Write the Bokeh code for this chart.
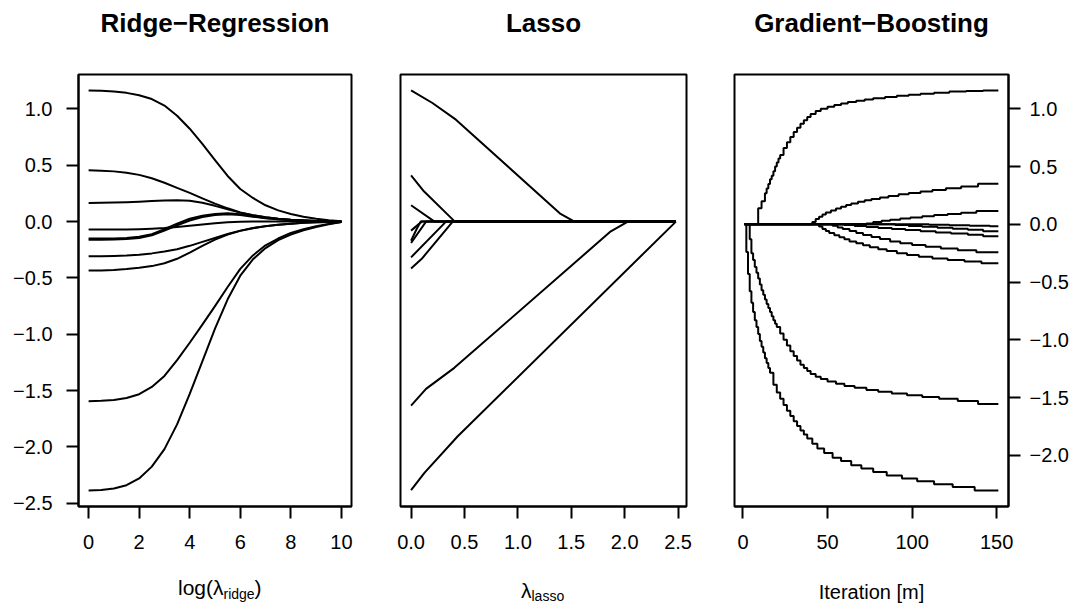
from bokeh.plotting import figure
from bokeh.layouts import row, column
from bokeh.models import Range1d, FixedTicker, Label
from bokeh.embed import file_html
from bokeh.resources import INLINE

FONT = "Liberation Sans"

# ---------------- Ridge regression: coefficient paths over log(lambda)
ridge_log_lambda = [0, 0.5, 1, 1.5, 2, 2.5, 3, 3.5, 4, 4.5, 5, 5.5, 6, 6.5, 7, 7.5, 8, 8.5, 9, 9.5, 10]
ridge_coef_1 = [1.165, 1.161, 1.155, 1.143, 1.122, 1.088, 1.03, 0.94, 0.825, 0.69, 0.545, 0.405, 0.29, 0.21, 0.145, 0.10, 0.068, 0.044, 0.026, 0.012, 0.003]
ridge_coef_2 = [0.455, 0.452, 0.446, 0.434, 0.415, 0.385, 0.345, 0.30, 0.255, 0.207, 0.16, 0.118, 0.082, 0.057, 0.039, 0.026, 0.017, 0.011, 0.006, 0.003, 0.001]
ridge_coef_3 = [0.166, 0.167, 0.169, 0.172, 0.177, 0.183, 0.188, 0.19, 0.185, 0.167, 0.14, 0.11, 0.08, 0.056, 0.038, 0.025, 0.016, 0.010, 0.006, 0.003, 0.001]
ridge_coef_4 = [-0.071, -0.071, -0.070, -0.069, -0.067, -0.063, -0.057, -0.048, -0.037, -0.025, -0.014, -0.006, -0.001, 0.001, 0.002, 0.002, 0.001, 0.001, 0.0, 0.0, 0.0]
ridge_coef_5 = [-0.150, -0.150, -0.149, -0.145, -0.135, -0.112, -0.068, -0.018, 0.025, 0.052, 0.068, 0.074, 0.065, 0.048, 0.033, 0.022, 0.014, 0.009, 0.005, 0.003, 0.001]
ridge_coef_6 = [-0.160, -0.160, -0.158, -0.154, -0.145, -0.122, -0.080, -0.032, 0.010, 0.041, 0.058, 0.065, 0.058, 0.044, 0.030, 0.021, 0.013, 0.008, 0.005, 0.003, 0.001]
ridge_coef_7 = [-0.308, -0.307, -0.305, -0.301, -0.294, -0.282, -0.266, -0.245, -0.215, -0.18, -0.145, -0.11, -0.08, -0.057, -0.04, -0.027, -0.018, -0.011, -0.006, -0.003, -0.001]
ridge_coef_8 = [-0.435, -0.433, -0.429, -0.421, -0.41, -0.395, -0.37, -0.33, -0.275, -0.215, -0.16, -0.115, -0.082, -0.058, -0.041, -0.028, -0.018, -0.011, -0.006, -0.003, -0.001]
ridge_coef_9 = [-1.594, -1.591, -1.583, -1.566, -1.532, -1.468, -1.37, -1.23, -1.075, -0.915, -0.75, -0.58, -0.42, -0.30, -0.21, -0.15, -0.10, -0.068, -0.040, -0.02, -0.004]
ridge_coef_10 = [-2.387, -2.382, -2.37, -2.34, -2.28, -2.175, -2.02, -1.80, -1.53, -1.24, -0.95, -0.69, -0.48, -0.335, -0.235, -0.165, -0.115, -0.078, -0.048, -0.024, -0.004]
ridge_paths = [ridge_coef_1, ridge_coef_2, ridge_coef_3, ridge_coef_4, ridge_coef_5,
               ridge_coef_6, ridge_coef_7, ridge_coef_8, ridge_coef_9, ridge_coef_10]

# ---------------- Lasso: piecewise-linear coefficient paths over lambda
lasso_lambda_1 = [0, 0.2, 0.42, 1.40, 1.53, 2.48]
lasso_coef_1 = [1.165, 1.053, 0.905, 0.068, 0.0, 0.0]
lasso_lambda_2 = [0, 0.12, 0.41, 2.48]
lasso_coef_2 = [0.411, 0.269, 0.0, 0.0]
lasso_lambda_3 = [0, 0.22, 2.48]
lasso_coef_3 = [0.145, 0.0, 0.0]
lasso_lambda_4 = [0, 0.10, 2.48]
lasso_coef_4 = [-0.08, 0.0, 0.0]
lasso_lambda_5 = [0, 0.14, 2.48]
lasso_coef_5 = [-0.19, 0.0, 0.0]
lasso_lambda_6 = [0, 0.05, 0.09, 2.48]
lasso_coef_6 = [-0.17, -0.07, 0.0, 0.0]
lasso_lambda_7 = [0, 0.327, 2.48]
lasso_coef_7 = [-0.317, 0.0, 0.0]
lasso_lambda_8 = [0, 0.10, 0.39, 2.48]
lasso_coef_8 = [-0.417, -0.33, 0.0, 0.0]
lasso_lambda_9 = [0, 0.14, 0.405, 1.87, 2.03, 2.48]
lasso_coef_9 = [-1.633, -1.485, -1.298, -0.086, 0.0, 0.0]
lasso_lambda_10 = [0, 0.125, 0.437, 2.48]
lasso_coef_10 = [-2.384, -2.23, -1.905, 0.0]
lasso_paths = [(lasso_lambda_1, lasso_coef_1), (lasso_lambda_2, lasso_coef_2),
               (lasso_lambda_3, lasso_coef_3), (lasso_lambda_4, lasso_coef_4),
               (lasso_lambda_5, lasso_coef_5), (lasso_lambda_6, lasso_coef_6),
               (lasso_lambda_7, lasso_coef_7), (lasso_lambda_8, lasso_coef_8),
               (lasso_lambda_9, lasso_coef_9), (lasso_lambda_10, lasso_coef_10)]

# ---------------- Gradient boosting: stepwise coefficient paths over iterations
gb_iter_1 = [1, 9, 11, 13, 14, 15, 16, 17, 18, 19, 20, 21, 22, 24, 26, 28, 30, 32, 34, 36, 38, 40, 43, 46, 50, 54, 58, 62, 67, 72, 77, 84, 91, 98, 105, 113, 122, 132, 142, 151]
gb_coef_1 = [0.0, 0.14, 0.20, 0.27, 0.31, 0.35, 0.39, 0.42, 0.46, 0.50, 0.535, 0.57, 0.60, 0.66, 0.71, 0.755, 0.80, 0.835, 0.87, 0.90, 0.93, 0.955, 0.98, 1.0, 1.017, 1.032, 1.045, 1.058, 1.07, 1.081, 1.092, 1.103, 1.113, 1.122, 1.131, 1.14, 1.15, 1.154, 1.159, 1.159]
gb_iter_2 = [1, 2, 3, 4, 5, 6, 7, 8, 9, 10, 11, 12, 13, 14, 15, 16, 18, 20, 22, 24, 26, 28, 30, 32, 34, 36, 38, 41, 44, 48, 53, 58, 64, 70, 77, 85, 94, 103, 113, 124, 137, 151]
gb_coef_2 = [0.0, -0.24, -0.43, -0.58, -0.68, -0.76, -0.83, -0.89, -0.95, -1.01, -1.06, -1.11, -1.16, -1.2, -1.245, -1.285, -1.39, -1.455, -1.51, -1.565, -1.615, -1.66, -1.705, -1.745, -1.785, -1.82, -1.855, -1.9, -1.94, -1.98, -2.02, -2.05, -2.085, -2.115, -2.145, -2.175, -2.2, -2.225, -2.25, -2.275, -2.304, -2.304]
gb_iter_3 = [1, 4, 5, 6, 7, 8, 9, 10, 11, 12, 13, 14, 15, 16, 17, 18, 19, 20, 22, 24, 26, 28, 30, 32, 34, 36, 38, 40, 43, 46, 50, 55, 60, 66, 73, 80, 88, 97, 106, 116, 127, 139, 151]
gb_coef_3 = [0.0, -0.13, -0.25, -0.31, -0.37, -0.42, -0.47, -0.52, -0.57, -0.61, -0.65, -0.69, -0.725, -0.76, -0.795, -0.83, -0.86, -0.89, -0.945, -1.0, -1.05, -1.1, -1.14, -1.18, -1.215, -1.245, -1.27, -1.295, -1.32, -1.34, -1.36, -1.38, -1.4, -1.415, -1.435, -1.45, -1.465, -1.48, -1.495, -1.51, -1.53, -1.555, -1.555]
gb_iter_4 = [1, 41, 43, 45, 47, 49, 52, 55, 58, 61, 64, 68, 72, 76, 81, 86, 92, 98, 105, 112, 120, 129, 139, 151]
gb_coef_4 = [0.0, 0.02, 0.045, 0.065, 0.085, 0.103, 0.12, 0.137, 0.152, 0.167, 0.18, 0.195, 0.208, 0.22, 0.233, 0.245, 0.26, 0.272, 0.285, 0.298, 0.312, 0.327, 0.352, 0.352]
gb_iter_5 = [1, 73, 77, 82, 87, 93, 99, 106, 113, 121, 129, 138, 151]
gb_coef_5 = [0.0, 0.008, 0.02, 0.03, 0.04, 0.05, 0.06, 0.07, 0.08, 0.09, 0.1, 0.116, 0.116]
gb_iter_6 = [1, 45, 47, 49, 51, 54, 57, 60, 63, 67, 71, 75, 80, 85, 91, 97, 104, 112, 121, 131, 141, 151]
gb_coef_6 = [0.0, -0.02, -0.04, -0.057, -0.075, -0.095, -0.113, -0.13, -0.148, -0.165, -0.182, -0.198, -0.215, -0.232, -0.25, -0.265, -0.28, -0.295, -0.31, -0.322, -0.337, -0.337]
gb_iter_7 = [1, 53, 56, 59, 63, 67, 71, 76, 81, 87, 93, 100, 108, 117, 127, 138, 151]
gb_coef_7 = [0.0, -0.012, -0.027, -0.04, -0.058, -0.075, -0.092, -0.11, -0.128, -0.148, -0.165, -0.18, -0.195, -0.21, -0.225, -0.242, -0.242]
gb_iter_8 = [1, 60, 66, 73, 80, 88, 96, 105, 114, 123, 133, 142, 151]
gb_coef_8 = [0.0, -0.006, -0.015, -0.023, -0.031, -0.04, -0.05, -0.06, -0.07, -0.08, -0.09, -0.104, -0.104]
gb_iter_9 = [1, 90, 98, 106, 115, 124, 133, 142, 151]
gb_coef_9 = [0.0, -0.006, -0.014, -0.022, -0.03, -0.038, -0.046, -0.06, -0.06]
gb_iter_10 = [1, 110, 122, 134, 146, 151]
gb_coef_10 = [0.0, -0.004, -0.008, -0.012, -0.017, -0.017]
gb_paths = [(gb_iter_1, gb_coef_1), (gb_iter_2, gb_coef_2), (gb_iter_3, gb_coef_3),
            (gb_iter_4, gb_coef_4), (gb_iter_5, gb_coef_5), (gb_iter_6, gb_coef_6),
            (gb_iter_7, gb_coef_7), (gb_iter_8, gb_coef_8), (gb_iter_9, gb_coef_9),
            (gb_iter_10, gb_coef_10)]

# ---------------- ticks and texts
ridge_x_ticks = [0, 2, 4, 6, 8, 10]
ridge_x_labels = ["0", "2", "4", "6", "8", "10"]
lasso_x_ticks = [0.0, 0.5, 1.0, 1.5, 2.0, 2.5]
lasso_x_labels = ["0.0", "0.5", "1.0", "1.5", "2.0", "2.5"]
gb_x_ticks = [0, 50, 100, 150]
gb_x_labels = ["0", "50", "100", "150"]
left_y_ticks = [-2.5, -2.0, -1.5, -1.0, -0.5, 0.0, 0.5, 1.0]
left_y_labels = ["\u22122.5", "\u22122.0", "\u22121.5", "\u22121.0", "\u22120.5", "0.0", "0.5", "1.0"]
right_y_ticks = [-2.0, -1.5, -1.0, -0.5, 0.0, 0.5, 1.0]
right_y_labels = ["\u22122.0", "\u22121.5", "\u22121.0", "\u22120.5", "0.0", "0.5", "1.0"]
titles = ["Ridge\u2212Regression", "Lasso", "Gradient\u2212Boosting"]

W = 1077
TOP_STRIP = 70
BOTTOM_STRIP = 45
PANEL_H = 605 - TOP_STRIP - BOTTOM_STRIP   # 490
FRAME_H = 432
P_TOP = 4
P_BOTTOM = PANEL_H - FRAME_H - P_TOP        # 54


def style_axis(ax, ticks, labels, standoff):
    ax.ticker = FixedTicker(ticks=ticks, minor_ticks=[])
    ax.major_label_overrides = {t: l for t, l in zip(ticks, labels)}
    ax.axis_line_color = "black"
    ax.axis_line_width = 2
    ax.major_tick_line_color = "black"
    ax.major_tick_line_width = 2
    ax.major_tick_out = 12
    ax.major_tick_in = 0
    ax.minor_tick_line_color = None
    ax.major_label_text_font = FONT
    ax.major_label_text_font_size = "20px"
    ax.major_label_text_color = "black"
    ax.major_label_standoff = standoff


def panel(width, bl, br, xr, yr, yloc):
    p = figure(width=width, height=PANEL_H, x_range=Range1d(*xr), y_range=Range1d(*yr),
               output_backend="svg", toolbar_location=None, y_axis_location=yloc,
               min_border_left=bl, min_border_right=br, min_border_top=P_TOP,
               min_border_bottom=P_BOTTOM)
    p.xgrid.visible = False
    p.ygrid.visible = False
    p.outline_line_color = "black"
    p.outline_line_width = 2
    p.outline_line_alpha = 1.0
    p.background_fill_color = "white"
    p.border_fill_color = "white"
    return p


def strip(height):
    s = figure(width=W, height=height, x_range=Range1d(0, W), y_range=Range1d(0, height),
               output_backend="svg", toolbar_location=None, x_axis_location=None,
               y_axis_location=None, min_border=0, min_border_left=0, min_border_right=0,
               min_border_top=0, min_border_bottom=0)
    s.xgrid.visible = False
    s.ygrid.visible = False
    s.outline_line_color = None
    s.background_fill_color = "white"
    s.border_fill_color = "white"
    return s


def add_text(p, x, y, text, size, align="left", bold=False):
    p.add_layout(Label(x=x, y=y, x_units="screen", y_units="screen", text=text,
                       text_align=align, text_baseline="alphabetic", text_font=FONT,
                       text_font_size=size, text_font_style="bold" if bold else "normal",
                       text_color="black"))


# Panel 1: ridge
p1 = panel(375, 78, 24, (-0.4, 10.4), (-2.529, 1.306), "left")
style_axis(p1.xaxis[0], ridge_x_ticks, ridge_x_labels, 16)
style_axis(p1.yaxis[0], left_y_ticks, left_y_labels, 14)
for coefs in ridge_paths:
    p1.line(ridge_log_lambda, coefs, line_color="black", line_width=2, line_join="round")

# Panel 2: lasso
p2 = panel(335, 25, 24, (-0.099, 2.579), (-2.529, 1.306), None)
style_axis(p2.xaxis[0], lasso_x_ticks, lasso_x_labels, 16)
for lam, coefs in lasso_paths:
    p2.line(lam, coefs, line_color="black", line_width=2, line_join="round")

# Panel 3: gradient boosting
p3 = panel(367, 24, 69, (-5.0, 157.0), (-2.443, 1.297), "right")
style_axis(p3.xaxis[0], gb_x_ticks, gb_x_labels, 16)
style_axis(p3.yaxis[0], right_y_ticks, right_y_labels, 9)
for it, coefs in gb_paths:
    p3.step(it, coefs, mode="after", line_color="black", line_width=2)

# Title strip
top = strip(TOP_STRIP)
title_centers = [214.5, 543, 871]
for cx, t in zip(title_centers, titles):
    add_text(top, cx, TOP_STRIP - 22, t, "26px", "center", True)

# Axis-title strip
bot = strip(BOTTOM_STRIP)
add_text(bot, 223, 18, "log(\u03bb", "21px", "right")
add_text(bot, 223, 11.5, "ridge", "14px", "left")
add_text(bot, 254, 18, ")", "21px", "left")
add_text(bot, 531, 15, "\u03bb", "21px", "right")
add_text(bot, 531, 9.5, "lasso", "14px", "left")
add_text(bot, 871, 14, "Iteration [m]", "20px", "center")

layout = column(top, row(p1, p2, p3), bot)
open("out.html", "w").write(file_html(layout, INLINE))
